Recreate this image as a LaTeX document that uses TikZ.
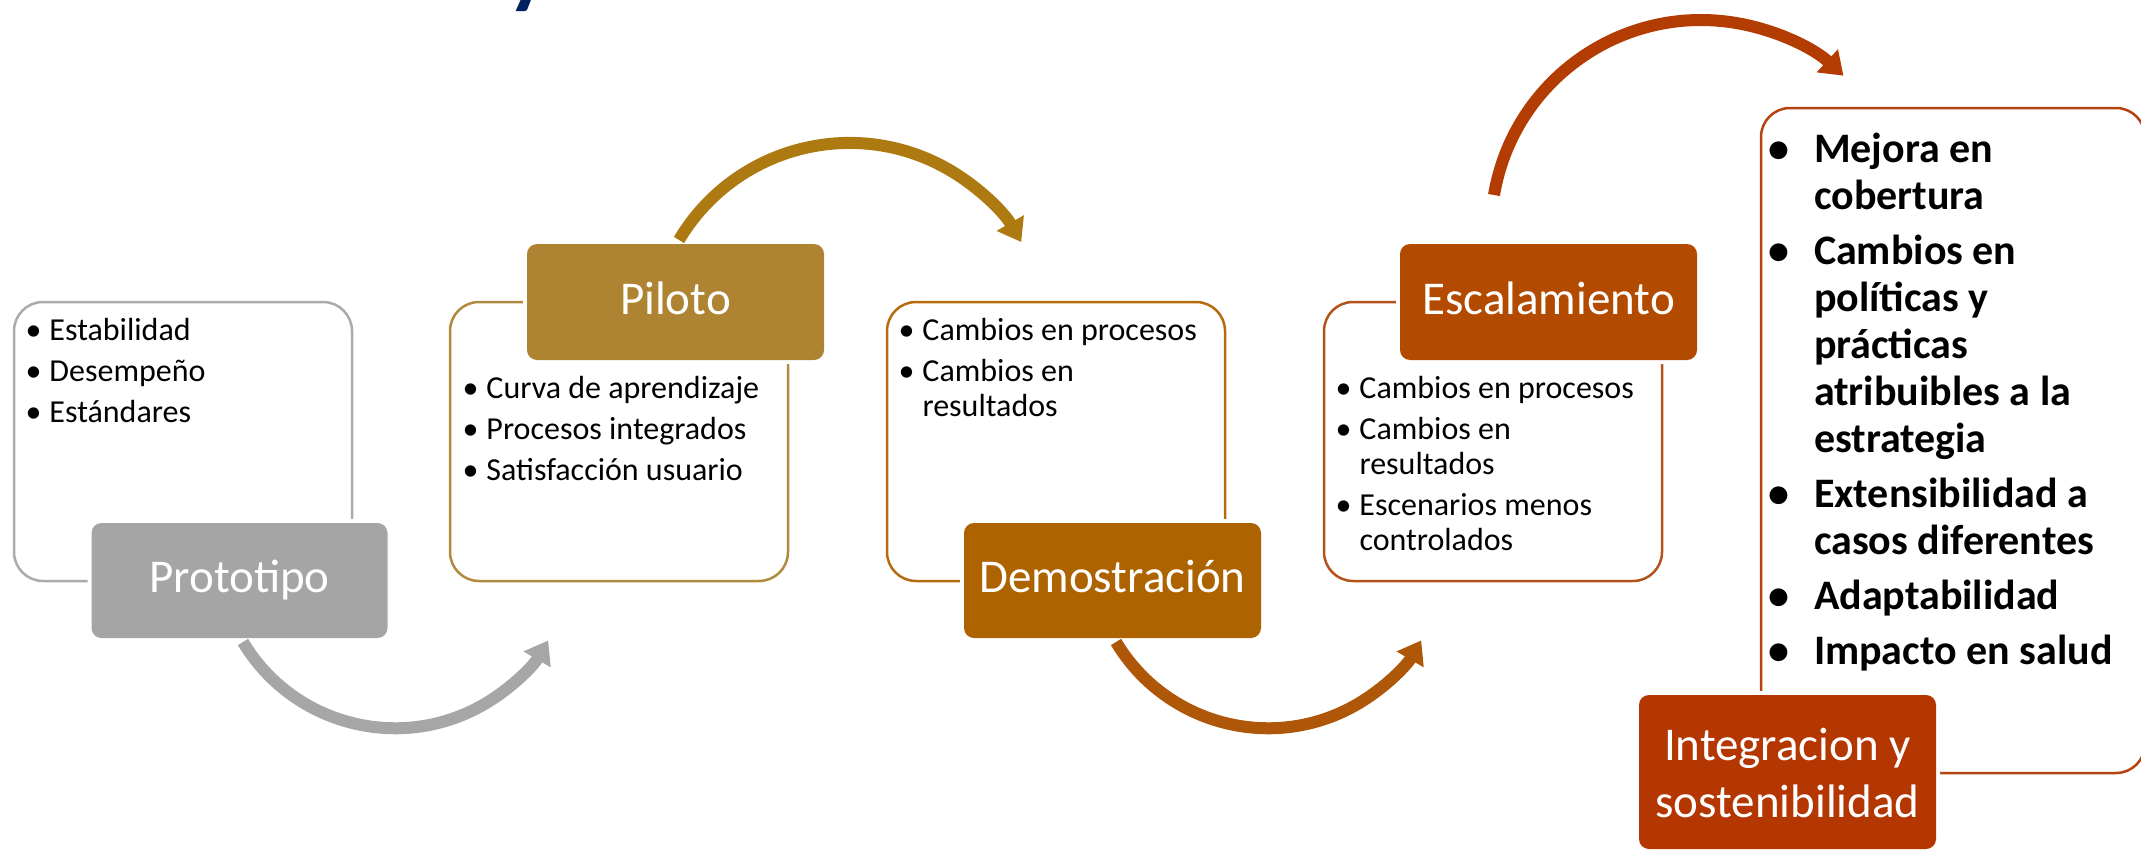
\documentclass[tikz,border=0pt]{standalone}
\usepackage{fontspec}
\setmainfont{Carlito}
\usetikzlibrary{arrows.meta}
\definecolor{gFill}{HTML}{A5A5A5}
\definecolor{gLine}{HTML}{ABABAB}
\definecolor{gArr}{HTML}{A6A6A6}
\definecolor{pFill}{HTML}{AE8433}
\definecolor{pLine}{HTML}{B08A3E}
\definecolor{pArr}{HTML}{AD7A12}
\definecolor{dFill}{HTML}{AD6300}
\definecolor{dLine}{HTML}{B76B0F}
\definecolor{dArr}{HTML}{AF5708}
\definecolor{eFill}{HTML}{B24B00}
\definecolor{eLine}{HTML}{B2531B}
\definecolor{rArr}{HTML}{B33C02}
\definecolor{iFill}{HTML}{B43600}
\definecolor{iLine}{HTML}{B6420F}
\definecolor{navy}{HTML}{002060}

\newcommand\bl{\makebox[24pt][l]{\textbullet}}
\newcommand\cl{\hspace*{24pt}}
\newcommand\bbl{\makebox[45.5pt][l]{\textbullet}}
\newcommand\bcl{\hspace*{45.5pt}}

\begin{document}
\begin{tikzpicture}[x=1pt,y=-1pt,
 cbox/.style={draw=#1, line width=2.5pt, rounded corners=29pt, inner sep=0pt, outer sep=0pt},
 stagebox/.style={fill=#1, rounded corners=10pt, inner sep=0pt, outer sep=0pt, text=white,
   font=\fontsize{47}{52}\selectfont, text height=32pt, text depth=8pt,
   preaction={draw=white, line width=8pt}},
 bodytext/.style={inner sep=0pt, outer sep=0pt, anchor=base west, font=\fontsize{32}{35}\selectfont},
 boldtext/.style={inner sep=0pt, outer sep=0pt, anchor=base west, font=\fontsize{42}{47}\selectfont\bfseries},
 curvearrow/.style={draw=#1, line width=12pt, -{Triangle[length=22pt,width=30pt]}}
]
\useasboundingbox (0,0) rectangle (2141,851);

% title fragment
\node[anchor=base west, inner sep=0pt, text=navy, font=\fontsize{90}{90}\selectfont\bfseries] (ttl) at (507,-2) {y};

% content boxes
\node[cbox=gLine, minimum width=338pt, minimum height=279pt] (b1) at (183,441.5) {};
\node[cbox=pLine, minimum width=338pt, minimum height=279pt] (b2) at (619,441.5) {};
\node[cbox=dLine, minimum width=338pt, minimum height=279pt] (b3) at (1056,441.5) {};
\node[cbox=eLine, minimum width=338pt, minimum height=279pt] (b4) at (1493,441.5) {};
\node[cbox=iLine, minimum width=384pt, minimum height=665pt] (b5) at (1953,440.5) {};

% stage boxes
\node[stagebox=gFill, minimum width=296pt, minimum height=115pt] (proto) at (239.5,580.5) {Prototipo};
\node[stagebox=pFill, minimum width=297pt, minimum height=116pt] (pil) at (675.5,302) {Piloto};
\node[stagebox=dFill, minimum width=297pt, minimum height=115pt] (demo) at (1112.5,580.5) {Demostración};
\node[stagebox=eFill, minimum width=297pt, minimum height=116pt] (esc) at (1548.5,302) {Escalamiento};
\node[stagebox=iFill, minimum width=297pt, minimum height=154pt, text height=0pt, text depth=0pt] (integ) at (1787.5,772) {};
\node[inner sep=0pt, text=white, anchor=base, font=\fontsize{47}{57}\selectfont] (integlbl) at (1787.5,760)
  {\begin{tabular}[t]{@{}c@{}}Integracion y\\sostenibilidad\end{tabular}};

% arrows
\draw[curvearrow=gArr] ([xshift=3.5pt,yshift=-4pt]proto.south) arc[start angle=149.1, end angle=30.3, radius=177.3];
\draw[curvearrow=pArr] ([xshift=3.5pt,yshift=4pt]pil.north) arc[start angle=-149.3, end angle=-30, radius=198.3];
\draw[curvearrow=dArr] ([xshift=3.5pt,yshift=-4pt]demo.south) arc[start angle=149.1, end angle=30.3, radius=177.3];
\coordinate (rs) at (1494,195);
\draw[curvearrow=rArr] (rs) arc[start angle=-170.4, end angle=-47.3, radius=210];

% texts
\node[bodytext] (t1) at (25.5,340) {\begin{tabular}[t]{@{}l@{}}
  \bl Estabilidad\\[6pt]\bl Desempeño\\[6pt]\bl Estándares\end{tabular}};
\node[bodytext] (t2) at (462.5,398) {\begin{tabular}[t]{@{}l@{}}
  \bl Curva de aprendizaje\\[6pt]\bl Procesos integrados\\[6pt]\bl Satisfacción usuario\end{tabular}};
\node[bodytext] (t3) at (898.5,340) {\begin{tabular}[t]{@{}l@{}}
  \bl Cambios en procesos\\[6pt]\bl Cambios en\\\cl resultados\end{tabular}};
\node[bodytext] (t4) at (1335.5,398) {\begin{tabular}[t]{@{}l@{}}
  \bl Cambios en procesos\\[6pt]\bl Cambios en\\\cl resultados\\[6pt]\bl Escenarios menos\\\cl controlados\end{tabular}};
\node[boldtext] (t5) at (1768.5,162) {\begin{tabular}[t]{@{}l@{}}
  \bbl Mejora en\\\bcl cobertura\\[8pt]
  \bbl Cambios en\\\bcl políticas y\\\bcl prácticas\\\bcl atribuibles a la\\\bcl estrategia\\[8pt]
  \bbl Extensibilidad a\\\bcl casos diferentes\\[8pt]
  \bbl Adaptabilidad\\[8pt]
  \bbl Impacto en salud\end{tabular}};
\end{tikzpicture}
\end{document}
